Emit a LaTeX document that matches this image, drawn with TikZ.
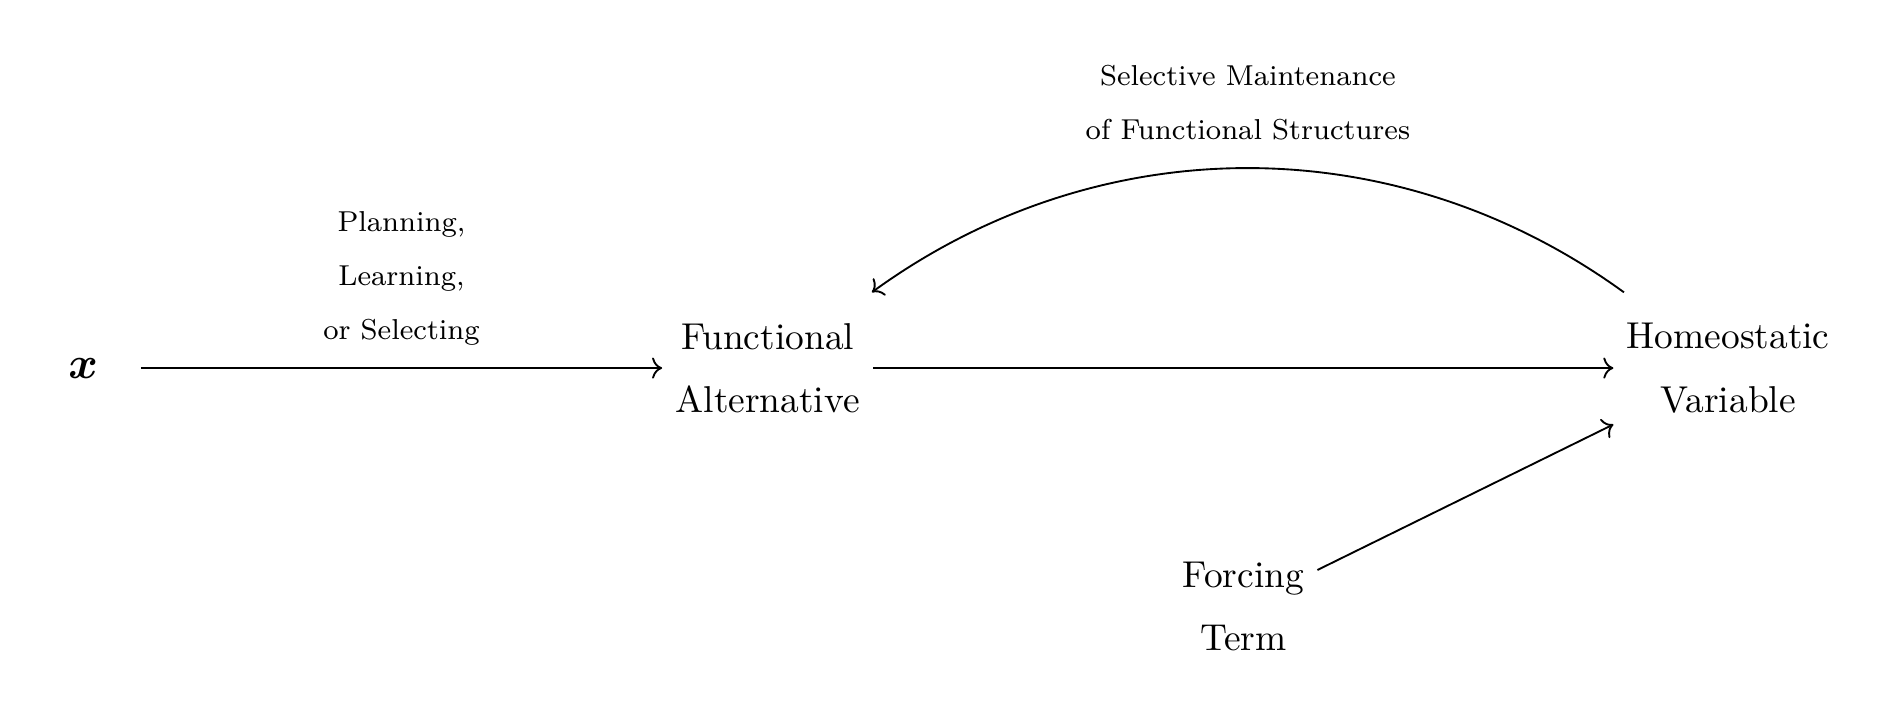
\documentclass[tikz,border=0pt]{standalone}
\usepackage{amsmath}
\usetikzlibrary{arrows.meta}
\begin{document}
\begin{tikzpicture}[line width=0.5pt, >={To},
    every node/.style = {align=center, font=\fontsize{10}{17}\selectfont},
    block/.style = {minimum height=40pt},
    lab/.style = {font=\fontsize{7.7}{14.4}\selectfont}]
    \useasboundingbox (0,0) rectangle (509pt,190.4pt);
    \node[minimum width=30.4pt, font=\fontsize{13}{15}\selectfont] (x) at (22.2pt,92pt) {$\boldsymbol{x}$};
    \node[block] (fa) at (205.2pt,92pt) {Functional\\Alternative};
    \node[block] (hv) at (462pt,92pt) {Homeostatic\\Variable};
    \node[block] (ft) at (332.4pt,28.3pt) {Forcing\\Term};
    \draw[->] (x) -- node[lab, above=2.5pt] {Planning,\\Learning,\\or Selecting} (fa);
    \draw[->] (fa) -- (hv);
    \draw[->] (ft) -- (hv);
    \draw[->] (hv) to[out=144, in=36, looseness=0.96]
        node[lab, above=4pt] {Selective Maintenance\\of Functional Structures} (fa);
\end{tikzpicture}
\end{document}
